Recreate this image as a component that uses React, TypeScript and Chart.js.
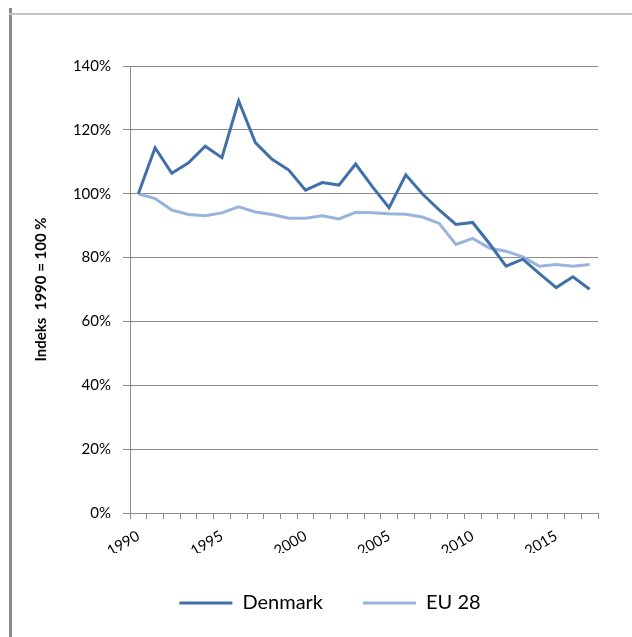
import React, { useEffect, useRef } from "react";
import { Chart, registerables } from "chart.js";

Chart.register(...registerables);

const years: string[] = [
  "1990", "1991", "1992", "1993", "1994", "1995", "1996", "1997", "1998", "1999",
  "2000", "2001", "2002", "2003", "2004", "2005", "2006", "2007", "2008", "2009",
  "2010", "2011", "2012", "2013", "2014", "2015", "2016", "2017",
];

const denmark: number[] = [
  100, 114.4, 106.4, 109.7, 114.9, 111.3, 129.1, 116.0, 110.8, 107.4,
  101.1, 103.5, 102.7, 109.3, 102.2, 95.6, 105.9, 99.9, 94.9, 90.4,
  91.0, 84.4, 77.3, 79.5, 75.0, 70.6, 74.0, 70.1,
];

const eu28: number[] = [
  100, 98.5, 94.9, 93.5, 93.1, 94.0, 95.9, 94.3, 93.5, 92.3,
  92.3, 93.1, 92.1, 94.2, 94.0, 93.7, 93.6, 92.7, 90.7, 84.1,
  86.0, 83.0, 82.0, 80.2, 77.3, 77.8, 77.3, 77.8,
];

const yTicks: number[] = [0, 20, 40, 60, 80, 100, 120, 140];
const labeledYears: string[] = ["1990", "1995", "2000", "2005", "2010", "2015"];

const seriesNames = ["Denmark", "EU 28"];
const yTitle = "Indeks  1990 = 100 %";

const FONT = "Lato, 'Open Sans', sans-serif";
const GRID = "#8c8c8c";

export default function App() {
  const ref = useRef<HTMLCanvasElement | null>(null);

  useEffect(() => {
    if (!ref.current) return;
    const chart = new Chart(ref.current, {
      type: "line",
      data: {
        labels: years,
        datasets: [
          {
            label: seriesNames[0],
            data: denmark,
            borderColor: "#4170a8",
            backgroundColor: "#4170a8",
            borderWidth: 3,
            pointRadius: 0,
            tension: 0,
          },
          {
            label: seriesNames[1],
            data: eu28,
            borderColor: "#98b4da",
            backgroundColor: "#98b4da",
            borderWidth: 3,
            pointRadius: 0,
            tension: 0,
          },
        ],
      },
      options: {
        responsive: false,
        animation: false,
        layout: { padding: { left: 50, right: 34, top: 50, bottom: 14 } },
        plugins: {
          tooltip: { enabled: false },
          legend: {
            position: "bottom",
            labels: {
              usePointStyle: true,
              pointStyle: "line",
              pointStyleWidth: 53,
              padding: 40,
              color: "#000",
              font: { family: FONT, size: 20 },
            },
          },
        },
        scales: {
          x: {
            offset: true,
            grid: {
              offset: true,
              drawOnChartArea: false,
              drawTicks: true,
              tickLength: 6,
              color: GRID,
            },
            border: { display: true, color: GRID, width: 1 },
            ticks: {
              autoSkip: false,
              minRotation: 30,
              maxRotation: 30,
              padding: 8,
              color: "#000",
              font: { family: FONT, size: 15 },
              callback: (_v: any, i: number) =>
                labeledYears.includes(years[i]) ? years[i] : "",
            },
            afterFit: (s: any) => {
              s.height = 40;
            },
          },
          y: {
            min: 0,
            max: 140,
            afterBuildTicks: (s: any) => {
              s.ticks = yTicks.map((v) => ({ value: v }));
            },
            grid: { color: GRID, tickLength: 7, lineWidth: 1 },
            border: { display: true, color: GRID, width: 1 },
            ticks: {
              padding: 12,
              color: "#000",
              font: { family: FONT, size: 15 },
              callback: (v: any) => v + "%",
            },
            title: {
              display: true,
              text: yTitle,
              color: "#000",
              font: { family: FONT, size: 15, weight: "bold" },
              padding: { top: -30, bottom: 0 },
            },
            afterFit: (s: any) => {
              s.width = 68;
            },
          },
        },
      },
    });
    return () => chart.destroy();
  }, []);

  return (
    <div
      style={{
        position: "fixed",
        left: 0,
        top: 0,
        width: 632,
        height: 637,
        background: "#fff",
        overflow: "hidden",
      }}
    >
      <div
        style={{
          position: "absolute",
          left: 9,
          top: 8,
          width: 3,
          height: 629,
          background: "#8a8a8a",
        }}
      />
      <div
        style={{
          position: "absolute",
          left: 9,
          top: 13,
          width: 623,
          height: 2,
          background: "#c4c4c4",
        }}
      />
      <div style={{ position: "absolute", left: 12, top: 16, width: 620, height: 621 }}>
        <canvas ref={ref} width={620} height={621} style={{ width: 620, height: 621 }} />
      </div>
    </div>
  );
}
